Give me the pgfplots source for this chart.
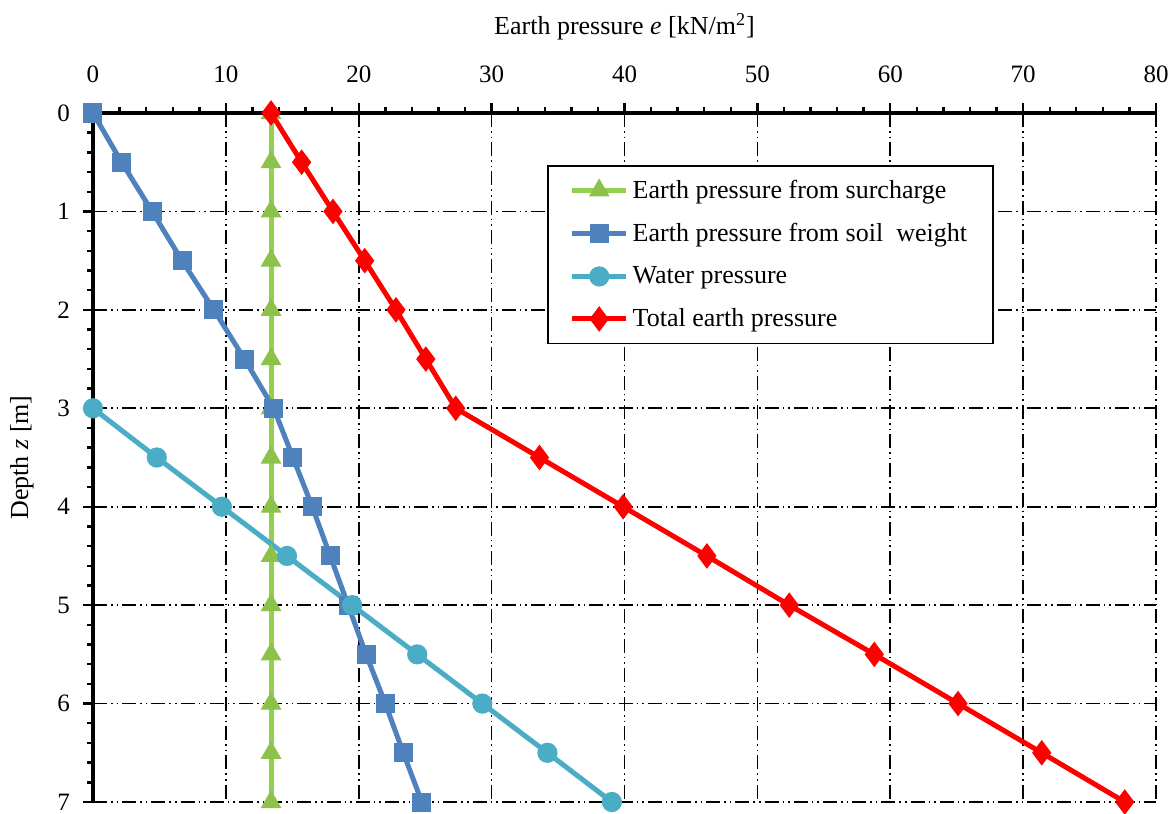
\documentclass[border=0pt]{standalone}
\usepackage{fontspec}
\setmainfont{Liberation Serif}
\usepackage{pgfplots}
\pgfplotsset{compat=1.18}
\definecolor{cgreen}{HTML}{92D050}
\definecolor{cgreenm}{HTML}{8CC24A}
\definecolor{cblue}{HTML}{4F81BD}
\definecolor{ccyan}{HTML}{4BACC6}
\definecolor{cred}{HTML}{FF0000}
\begin{document}
\begin{tikzpicture}
\begin{axis}[
  scale only axis,
  width=531.5pt, height=344.5pt,
  xmin=0, xmax=80, ymin=0, ymax=7,
  y dir=reverse,
  axis x line=top, axis y line=left,
  axis line style={line width=2pt, -},
  xtick={0,10,...,80}, ytick={0,1,...,7},
  minor x tick num=4, minor y tick num=4,
  tick align=outside,
  major tick length=5pt, minor tick length=3pt,
  every tick/.style={black, line width=1.2pt},
  grid=major,
  major grid style={black, line width=0.8pt, dash pattern=on 7pt off 2pt on 0.8pt off 2pt on 0.8pt off 2pt},
  /pgf/number format/assume math mode=true,
  ticklabel style={font=\fontsize{12.5}{14}\selectfont},
  xticklabel style={anchor=center, yshift=14.5pt},
  yticklabel style={xshift=-3pt},
  every axis x label/.style={at={(axis description cs:0.5,1.1248)}, anchor=center, font=\fontsize{13}{15}\selectfont},
  every axis y label/.style={at={(axis description cs:-0.0668,0.5)}, rotate=90, anchor=center, font=\fontsize{13}{15}\selectfont},
  xlabel={Earth pressure \textit{e} [kN/m\textsuperscript{2}]},
  ylabel={Depth \textit{z} [m]},
  clip=false,
  legend style={at={(0.427,0.9245)}, anchor=north west, draw=black, line width=0.8pt,
    font=\fontsize{13}{15}\selectfont, inner xsep=11pt, inner ysep=5pt, row sep=7pt,
    legend cell align=left},
  legend image code/.code={\draw[mark repeat=2,mark phase=2,#1] plot coordinates {(0pt,0pt) (13.5pt,0pt) (27pt,0pt)};},
]
\addplot[cgreen, line width=2.5pt, mark=triangle*, mark size=5.5pt, mark options={fill=cgreenm, draw=cgreenm, line width=0.5pt}] coordinates {
(13.4,0) (13.4,0.5) (13.4,1) (13.4,1.5) (13.4,2) (13.4,2.5) (13.4,3) (13.4,3.5) (13.4,4) (13.4,4.5) (13.4,5) (13.4,5.5) (13.4,6) (13.4,6.5) (13.4,7)};
\addlegendentry{Earth pressure from surcharge}
\addplot[cblue, line width=2.5pt, mark=square*, mark size=4.5pt, mark options={fill=cblue, draw=cblue, line width=0.5pt}] coordinates {
(0,0) (2.15,0.5) (4.45,1) (6.7,1.5) (9.1,2) (11.4,2.5) (13.6,3) (15.05,3.5) (16.5,4) (17.85,4.5) (19.2,5) (20.55,5.5) (22.0,6) (23.35,6.5) (24.75,7)};
\addlegendentry{Earth pressure from soil\ \ weight}
\addplot[ccyan, line width=2.5pt, mark=*, mark size=4.8pt, mark options={fill=ccyan, draw=ccyan, line width=0.5pt}] coordinates {
(0,3) (4.8,3.5) (9.7,4) (14.6,4.5) (19.5,5) (24.4,5.5) (29.3,6) (34.2,6.5) (39.05,7)};
\addlegendentry{Water pressure}
\addplot[cred, line width=2.5pt, mark=diamond*, mark size=6pt, mark options={fill=cred, draw=cred, line width=0.5pt}] coordinates {
(13.4,0) (15.7,0.5) (18.06,1) (20.45,1.5) (22.8,2) (25.05,2.5) (27.3,3) (33.6,3.5) (39.9,4) (46.2,4.5) (52.4,5) (58.8,5.5) (65.1,6) (71.4,6.5) (77.65,7)};
\addlegendentry{Total earth pressure}
\coordinate (sw) at (axis description cs:0,0);
\coordinate (ne) at (axis description cs:1,1);
\end{axis}
\pgfresetboundingbox
\path[use as bounding box] ([xshift=-46.5pt,yshift=-5.5pt]sw) rectangle ([xshift=8pt,yshift=56.5pt]ne);
\end{tikzpicture}
\end{document}
